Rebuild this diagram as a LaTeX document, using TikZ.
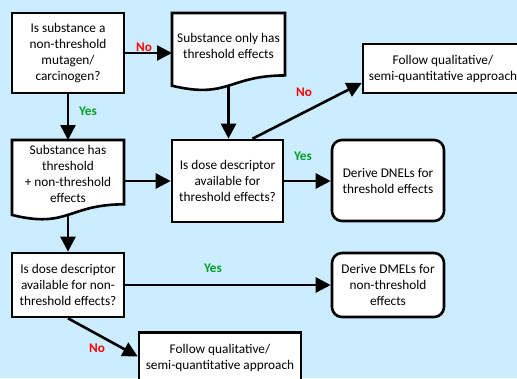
\documentclass[tikz,border=0pt]{standalone}
\usepackage{fontspec}
\setmainfont{Carlito}
\usetikzlibrary{arrows.meta,calc,backgrounds}
\definecolor{bgblue}{RGB}{204,236,255}
\definecolor{noRed}{RGB}{255,0,0}
\definecolor{yesGreen}{RGB}{0,160,40}
\newcommand\docoutline[1]{%
  \draw[boxline,fill=white] (#1.north west) -- (#1.north east)
    -- ($(#1.north east)!0.946!(#1.south east)$)
    .. controls ($(#1.north)!0.946!(#1.south)$) and ($(#1.north)!1.307!(#1.south)$)
    .. ($(#1.north west)!1.102!(#1.south west)$) -- cycle;
  \coordinate (#1b) at ($(#1.north)!1.101!(#1.south)$);%
}
\begin{document}
\begin{tikzpicture}[x=1pt,y=-1pt,
  boxline/.style={draw=black,line width=2.6pt},
  txt/.style={font=\fontsize{13.3}{16}\selectfont, align=center, inner sep=0pt},
  box/.style={txt,boxline,fill=white,rectangle},
  rbox/.style={box,rounded corners=10pt},
  docbox/.style={txt,rectangle,outer sep=0pt},
  conn/.style={line width=2.6pt,-{Triangle[length=15pt,width=15pt]}},
  nolab/.style={font=\fontsize{13.2}{15}\selectfont\bfseries,text=noRed,inner sep=0pt},
  yeslab/.style={font=\fontsize{13.2}{15}\selectfont\bfseries,text=yesGreen,inner sep=0pt}]
\useasboundingbox (0,0) rectangle (517,378);
\begin{pgfonlayer}{background}
  \fill[bgblue] (0,0) rectangle (517,378);
\end{pgfonlayer}

\node[box,minimum width=112pt,minimum height=80pt] (q1) at (68,53) {Is substance a\\non-threshold\\mutagen/\\carcinogen?};
\node[docbox,minimum width=113pt,minimum height=66pt] (d1) at (228.5,46) {Substance only has\\threshold effects};
\node[docbox,minimum width=112pt,minimum height=68pt] (d2) at (68,174) {Substance has\\threshold\\+ non-threshold\\effects};
\node[box,minimum width=111pt,minimum height=82pt] (q3) at (227.5,181) {Is dose descriptor\\available for\\threshold effects?};
\node[rbox,minimum width=112pt,minimum height=81pt] (dn) at (388,180.5) {Derive DNELs for\\threshold effects};
\node[box,minimum width=160pt,minimum height=49pt] (f1) at (443,68.5) {Follow qualitative/\\semi-quantitative approach};
\node[box,minimum width=112pt,minimum height=64pt] (q4) at (68,285) {Is dose descriptor\\available for non-\\threshold effects?};
\node[rbox,minimum width=112pt,minimum height=64pt] (dm) at (388,285) {Derive DMELs for\\non-threshold\\effects};
\node[box,minimum width=162pt,minimum height=50pt] (f2) at (220,357.5) {Follow qualitative/\\semi-quantitative approach};

\begin{pgfonlayer}{background}
  \docoutline{d1}
  \docoutline{d2}
\end{pgfonlayer}

\draw[conn] (q1.east) -- (q1.east -| d1.west);
\draw[conn] (q1.south) -- (d2.north);
\draw[conn] (d1b) -- (d1b |- q3.north);
\draw[conn] (q3.west -| d2.east) -- (q3.west);
\draw[conn] (q3.east) -- (q3.east -| dn.west);
\draw[conn] ($(q3.north west)!0.72!(q3.north east)$) -- ($(f1.south west)!0.22!(f1.north west)$);
\draw[conn] (d2b) -- (d2b |- q4.north);
\draw[conn] (q4.east) -- (dm.west);
\draw[conn] (q4.south) -- ($(f2.north west)!0.48!(f2.south west)$);

\node[nolab] (n1) at (144,47) {No};
\node[yeslab] (y1) at (88,111) {Yes};
\node[nolab] (n2) at (304,92) {No};
\node[yeslab] (y2) at (303,156) {Yes};
\node[yeslab] (y3) at (213,268) {Yes};
\node[nolab] (n3) at (97,348) {No};
\end{tikzpicture}
\end{document}
